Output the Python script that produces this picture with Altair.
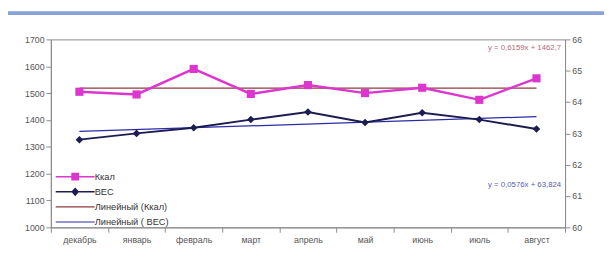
import altair as alt
import pandas as pd

months = ['декабрь', 'январь', 'февраль', 'март', 'апрель', 'май', 'июнь', 'июль', 'август']
kcal = [1505, 1495, 1590, 1497, 1530, 1500, 1520, 1475, 1555]
ves = [62.8, 63.0, 63.18, 63.44, 63.68, 63.35, 63.66, 63.44, 63.14]
series_names = ['Ккал', 'ВЕС', 'Линейный (Ккал)', 'Линейный ( ВЕС)']
series_colors = ['#dc36cf', '#1c1c52', '#8e3b3b', '#2b2ba6']
series_paths = [
    'M-4,-0.15H4V0.15H-4ZM-0.8,-0.8H0.8V0.8H-0.8Z',
    'M-4,-0.15H4V0.15H-4ZM0,-0.9L0.8,0L0,0.9L-0.8,0Z',
    'M-4,-0.12H4V0.12H-4Z',
    'M-4,-0.12H4V0.12H-4Z',
]
equations = ['y = 0,6159x + 1462,7', 'y = 0,0576x + 63,824']

df = pd.DataFrame({'idx': list(range(len(months))), 'month': months, 'kcal': kcal, 'ves': ves})
legend_df = pd.DataFrame({'series': series_names})

xenc = alt.X('month:N', sort=months, title=None,
             scale=alt.Scale(paddingInner=0, paddingOuter=0),
             axis=alt.Axis(tickBand='extent', labelAngle=0, tickSize=5, labelPadding=4,
                           domainColor='#8a8a8a', tickColor='#8a8a8a'))

base = alt.Chart(df)
lookup = alt.LookupData(df, 'idx', ['month'])

yl = alt.Y('kcal:Q', title=None,
           scale=alt.Scale(domain=[1000, 1700], nice=False, zero=False),
           axis=alt.Axis(orient='left', values=list(range(1000, 1701, 100)), tickSize=5, format='d',
                         domainColor='#8a8a8a', tickColor='#8a8a8a'))
yr = alt.Y('ves:Q', title=None,
           scale=alt.Scale(domain=[60, 66], nice=False, zero=False),
           axis=alt.Axis(orient='right', values=list(range(60, 67)), tickSize=5, format='d',
                         domainColor='#8a8a8a', tickColor='#8a8a8a'))

kcal_trend = base.transform_regression('idx', 'kcal').transform_lookup(
    lookup='idx', from_=lookup).mark_line(color=series_colors[2], strokeWidth=1.3).encode(x=xenc, y=yl)
kcal_line = base.mark_line(color=series_colors[0], strokeWidth=2.5).encode(x=xenc, y=yl)
kcal_pts = base.mark_point(shape='square', filled=True, size=70, opacity=1,
                           color=series_colors[0]).encode(x=xenc, y=yl)
left = alt.layer(kcal_trend, kcal_line, kcal_pts)

ves_trend = base.transform_regression('idx', 'ves').transform_lookup(
    lookup='idx', from_=lookup).mark_line(color=series_colors[3], strokeWidth=1.3).encode(x=xenc, y=yr)
ves_line = base.mark_line(color=series_colors[1], strokeWidth=2).encode(x=xenc, y=yr)
ves_pts = base.mark_point(shape='diamond', filled=True, size=60, opacity=1,
                          color=series_colors[1]).encode(x=xenc, y=yr)
right = alt.layer(ves_trend, ves_line, ves_pts)

leg = alt.Legend(title=None, orient='none', legendX=20, legendY=136, symbolSize=100,
                 labelOffset=15, rowPadding=5.5, labelFontSize=9.5, labelColor='#333',
                 labelFont='Liberation Sans', symbolStrokeWidth=0)
hidden = alt.Chart(legend_df).mark_point(filled=True, size=100, opacity=1).encode(
    x=alt.value(-300), y=alt.value(-300),
    color=alt.Color('series:N', scale=alt.Scale(domain=series_names, range=series_colors), legend=leg),
    shape=alt.Shape('series:N', scale=alt.Scale(domain=series_names, range=series_paths), legend=leg),
)

eq1 = alt.Chart(pd.DataFrame({'t': [equations[0]]})).mark_text(
    fontSize=8, color='#b56a7a', align='right', font='Liberation Sans').encode(
    text='t:N', x=alt.value(524), y=alt.value(9))
eq2 = alt.Chart(pd.DataFrame({'t': [equations[1]]})).mark_text(
    fontSize=8, color='#5a5ab8', align='right', font='Liberation Sans').encode(
    text='t:N', x=alt.value(524), y=alt.value(150))

band = alt.Chart(pd.DataFrame({'a': [0]})).mark_rect(color='#86a2d6', clip=False).encode(
    x=alt.value(-44), x2=alt.value(600), y=alt.value(-29), y2=alt.value(-25))

chart = alt.layer(band, left, right, hidden, eq1, eq2).resolve_scale(y='independent').properties(
    width=528, height=193,
    autosize=alt.AutoSizeParams(type='none'),
    padding={'left': 44, 'top': 29, 'right': 40, 'bottom': 20},
    background='white',
).configure_view(stroke='#8a8a8a', strokeWidth=1).configure_axis(
    grid=False, labelFont='Liberation Sans', labelFontSize=9, labelColor='#555'
)

chart.save('out.html', embed_options={'renderer': 'svg', 'actions': False})
